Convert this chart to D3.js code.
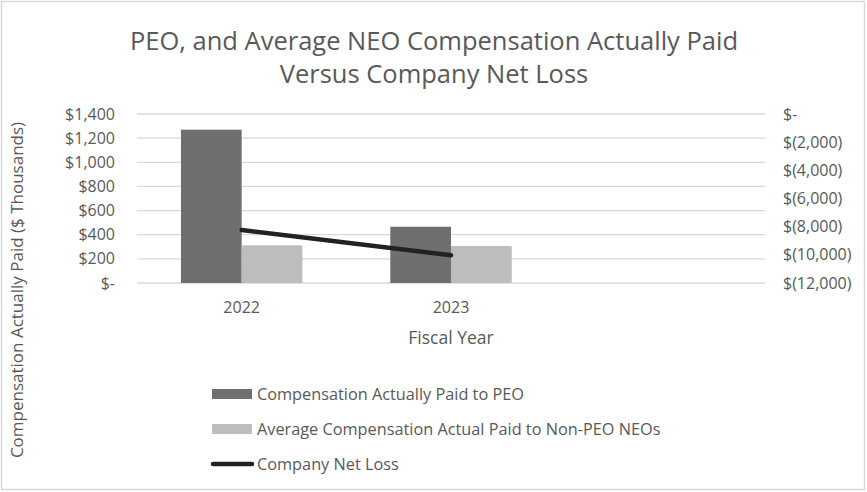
<!DOCTYPE html>
<html><head><meta charset="utf-8">
<script src="https://cdn.jsdelivr.net/npm/d3@7"></script>
<style>body{margin:0;background:#fff}svg{display:block}text{font-family:"Open Sans",sans-serif;fill:#595959}</style>
</head><body><svg id="c" width="867" height="492"></svg>
<script>
const categories = ["2022", "2023", ""];
const peoValues = [1270, 466, null];
const neoValues = [312, 306, null];
const netLoss = [-8240, -10030, null];
const leftTicks = [0, 200, 400, 600, 800, 1000, 1200, 1400];
const rightTicks = [0, -2000, -4000, -6000, -8000, -10000, -12000];
const seriesNames = ["Compensation Actually Paid to PEO", "Average Compensation Actual Paid to Non-PEO NEOs", "Company Net Loss"];
const colors = ["#6f6f71", "#bdbdc0", "#222222"];

const svg = d3.select("#c");
svg.append("rect").attr("x",1.5).attr("y",1.5).attr("width",863).attr("height",488).attr("fill","#fff").attr("stroke","#d9d9d9").attr("stroke-width",1.5);

const L = 137, R = 765, T = 114, B = 283;
const x = d3.scaleBand().domain(categories.map((c,i)=>i)).range([L,R]).paddingInner(0.42).paddingOuter(0.21);
const xc = d3.scaleBand().domain(categories.map((c,i)=>i)).range([L,R]);
const y = d3.scaleLinear().domain([0,1400]).range([B,T]);
const y2 = d3.scaleLinear().domain([-12000,0]).range([B,T]);

svg.append("g").selectAll("line").data(leftTicks).join("line")
  .attr("x1",L).attr("x2",R).attr("y1",d=>y(d)).attr("y2",d=>y(d))
  .attr("stroke","#d9d9d9").attr("stroke-width",1.3);

const fmtL = d => d===0 ? "$-" : "$" + d3.format(",")(d);
const fmtR = d => d===0 ? "$-" : "$(" + d3.format(",")(-d) + ")";

const gl = svg.append("g").attr("transform",`translate(${L},0)`)
  .call(d3.axisLeft(y).tickValues(leftTicks).tickFormat(fmtL).tickSize(0).tickPadding(22));
gl.select(".domain").remove();
gl.selectAll("text").style("font-size","16px").style("font-family","'Open Sans',sans-serif").attr("fill","#595959");

const gr = svg.append("g").attr("transform",`translate(${R},0)`)
  .call(d3.axisRight(y2).tickValues(rightTicks).tickFormat(fmtR).tickSize(0).tickPadding(18));
gr.select(".domain").remove();
gr.selectAll("text").style("font-size","16px").style("font-family","'Open Sans',sans-serif").attr("fill","#595959");

const gx = svg.append("g").attr("transform",`translate(0,${B})`)
  .call(d3.axisBottom(xc).tickFormat(i=>categories[i]).tickSize(0).tickPadding(19));
gx.select(".domain").remove();
gx.selectAll("text").style("font-size","16px").style("font-family","'Open Sans',sans-serif").attr("fill","#595959");

const bw = x.bandwidth()/2;
const data = categories.map((c,i)=>({i, peo:peoValues[i], neo:neoValues[i], loss:netLoss[i]}));
svg.append("g").selectAll("rect").data(data.filter(d=>d.peo!=null)).join("rect")
  .attr("x",d=>x(d.i)).attr("width",bw).attr("y",d=>y(d.peo)).attr("height",d=>B-y(d.peo)).attr("fill",colors[0]);
svg.append("g").selectAll("rect").data(data.filter(d=>d.neo!=null)).join("rect")
  .attr("x",d=>x(d.i)+bw).attr("width",bw).attr("y",d=>y(d.neo)).attr("height",d=>B-y(d.neo)).attr("fill",colors[1]);

const line = d3.line().x(d=>xc(d.i)+xc.bandwidth()/2).y(d=>y2(d.loss));
svg.append("path").datum(data.filter(d=>d.loss!=null)).attr("d",line)
  .attr("fill","none").attr("stroke",colors[2]).attr("stroke-width",4.5).attr("stroke-linecap","round");

const title = svg.append("text").attr("text-anchor","middle").style("font-size","25.5px");
title.append("tspan").attr("x",434).attr("y",50).text("PEO, and Average NEO Compensation Actually Paid");
title.append("tspan").attr("x",434).attr("y",83).text("Versus Company Net Loss");

svg.append("text").attr("x",(L+R)/2).attr("y",344).attr("text-anchor","middle").style("font-size","17.5px").text("Fiscal Year");
svg.append("text").attr("transform","translate(23,290) rotate(-90)").attr("text-anchor","middle").style("font-size","17px")
  .text("Compensation Actually Paid ($ Thousands)");

const lg = svg.append("g");
const ly = [394, 429, 464];
seriesNames.forEach((n,k)=>{
  if(k<2) lg.append("rect").attr("x",212).attr("y",ly[k]-5).attr("width",40).attr("height",10).attr("fill",colors[k]);
  else lg.append("line").attr("x1",213).attr("x2",252).attr("y1",ly[k]).attr("y2",ly[k]).attr("stroke",colors[k]).attr("stroke-width",4.5).attr("stroke-linecap","round");
  lg.append("text").attr("x",257).attr("y",ly[k]).attr("dy","0.35em").style("font-size","16.3px").text(n);
});
</script></body></html>
